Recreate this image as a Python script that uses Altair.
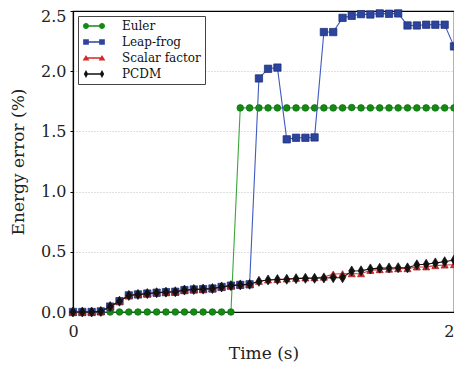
import altair as alt
import pandas as pd

# Time samples (s)
time = [0.000, 0.049, 0.098, 0.146, 0.195, 0.244, 0.293, 0.341, 0.390, 0.439,
        0.488, 0.537, 0.585, 0.634, 0.683, 0.732, 0.780, 0.829, 0.878, 0.927,
        0.976, 1.024, 1.073, 1.122, 1.171, 1.220, 1.268, 1.317, 1.366, 1.415,
        1.463, 1.512, 1.561, 1.610, 1.659, 1.707, 1.756, 1.805, 1.854, 1.902,
        1.951, 2.000]

euler = [0, 0, 0, 0, 0, 0, 0, 0, 0, 0,
         0, 0, 0, 0, 0, 0, 0, 0, 1.695, 1.695,
         1.695, 1.695, 1.695, 1.695, 1.695, 1.695, 1.695, 1.695, 1.695, 1.695,
         1.698, 1.695, 1.695, 1.695, 1.695, 1.695, 1.695, 1.695, 1.695, 1.695,
         1.695, 1.695]

leapfrog = [0, 0, 0, 0.005, 0.045, 0.09, 0.138, 0.146, 0.153, 0.16,
            0.165, 0.168, 0.182, 0.187, 0.19, 0.195, 0.208, 0.219, 0.225, 0.23,
            1.94, 2.02, 2.03, 1.434, 1.447, 1.447, 1.45, 2.325, 2.325, 2.443,
            2.46, 2.474, 2.471, 2.48, 2.477, 2.48, 2.38, 2.38, 2.386, 2.386,
            2.386, 2.206]

scalar = [0, 0, 0, 0.005, 0.045, 0.09, 0.138, 0.146, 0.153, 0.16,
          0.165, 0.168, 0.182, 0.187, 0.19, 0.195, 0.208, 0.219, 0.225, 0.23,
          0.255, 0.266, 0.27, 0.275, 0.28, 0.283, 0.285, 0.29, 0.315, 0.318,
          0.318, 0.318, 0.346, 0.352, 0.356, 0.36, 0.36, 0.374, 0.375, 0.385,
          0.39, 0.393]

pcdm = [0, 0, 0, 0.005, 0.045, 0.09, 0.138, 0.146, 0.153, 0.16,
        0.165, 0.168, 0.182, 0.187, 0.19, 0.195, 0.208, 0.219, 0.225, 0.23,
        0.255, 0.266, 0.27, 0.272, 0.277, 0.28, 0.28, 0.283, 0.285, 0.285,
        0.341, 0.342, 0.358, 0.364, 0.366, 0.368, 0.367, 0.392, 0.397, 0.408,
        0.418, 0.432]

names = ["Euler", "Leap-frog", "Scalar factor", "PCDM"]
series_values = [euler, leapfrog, scalar, pcdm]

rows = []
for name, vals in zip(names, series_values):
    for t, v in zip(time, vals):
        rows.append({"t": t, "v": v, "series": name})
df = pd.DataFrame(rows)

FONT = "DejaVu Serif"

x_enc = alt.X("t:Q", scale=alt.Scale(domain=[0, 2], nice=False),
              axis=alt.Axis(title="Time (s)", values=[0, 1, 2], format="d",
                            labelPadding=8, titlePadding=6, labelFlush=False,
                            labelAlign={"condition": {"test": "datum.value == 2", "value": "right"}, "value": "center"},
                            gridOpacity={"condition": {"test": "datum.value == 0 || datum.value == 2", "value": 0}, "value": 1}))
y_enc = alt.Y("v:Q", scale=alt.Scale(domain=[0, 2.5], nice=False),
              axis=alt.Axis(title="Energy error (%)", values=[0, 0.5, 1, 1.5, 2, 2.5],
                            format=".1f", labelPadding=4, titlePadding=13,
                            labelBaseline={"condition": {"test": "datum.value == 2.5", "value": "top"}, "value": "middle"},
                            labelOffset={"condition": {"test": "datum.value == 2.5", "value": -2.5}, "value": 0},
                            gridOpacity={"condition": {"test": "datum.value == 0 || datum.value == 2.5", "value": 0}, "value": 1}))

styles = {
    "Euler": dict(line="#3aa63a", fill="#138a13", stroke="#0d6e0d", shape="circle", size=44),
    "Leap-frog": dict(line="#3f5bbd", fill="#2b44a0", stroke="#1a2a6e", shape="square", size=54),
    "Scalar factor": dict(line="#d43a3a", fill="#d42a2a", stroke="#a01818", shape="triangle-up", size=50),
    "PCDM": dict(line="#111111", fill="#111111", stroke="#111111", shape="M0,-1L0.6,0L0,1L-0.6,0Z", size=100),
}

layers = []
for name in names:
    s = styles[name]
    base = alt.Chart(df).transform_filter(alt.datum.series == name)
    layers.append(base.mark_line(color=s["line"], strokeWidth=1.1).encode(x=x_enc, y=y_enc))
    layers.append(base.mark_point(filled=True, fill=s["fill"], stroke=s["stroke"], strokeWidth=0.7,
                                  shape=s["shape"], size=s["size"], opacity=1).encode(x=x_enc, y=y_enc))

legend_colors = ["#138a13", "#2b44a0", "#d42a2a", "#111111"]
bar = "M-1.6,-0.13H1.6V0.13H-1.6Z "
legend_paths = [
    bar + "M-2.2,0A0.6,0.6 0 1,1 -1.0,0A0.6,0.6 0 1,1 -2.2,0Z M1.0,0A0.6,0.6 0 1,1 2.2,0A0.6,0.6 0 1,1 1.0,0Z",
    bar + "M-2.17,-0.57H-1.03V0.57H-2.17Z M1.03,-0.57H2.17V0.57H1.03Z",
    bar + "M-1.6,-0.62L-0.92,0.52H-2.28Z M1.6,-0.62L2.28,0.52H0.92Z",
    bar + "M-1.6,-0.8L-1.17,0L-1.6,0.8L-2.03,0Z M1.6,-0.8L2.03,0L1.6,0.8L1.17,0Z",
]

legend_layer = alt.Chart(df).transform_filter("false").mark_point(filled=True, opacity=1).encode(
    x=x_enc, y=y_enc,
    color=alt.Color("series:N", scale=alt.Scale(domain=names, range=legend_colors),
                    legend=alt.Legend(title=None)),
    shape=alt.Shape("series:N", scale=alt.Scale(domain=names, range=legend_paths),
                    legend=alt.Legend(title=None)),
)
layers.append(legend_layer)

chart = alt.layer(*layers).properties(
    width=381, height=301,
    autosize=alt.AutoSizeParams(type="none"),
    padding={"left": 65, "top": 3, "right": 0, "bottom": 50},
).configure_view(
    stroke="black", strokeWidth=1.2
).configure_axis(
    domainColor="black", domainWidth=1.2, tickColor="black", tickSize=3,
    labelFont=FONT, labelFontSize=16, labelColor="#222",
    titleFont=FONT, titleFontSize=17, titleFontWeight="normal", titleColor="#222",
    gridColor="#b0b0b0", gridDash=[1, 2], gridWidth=0.8,
).configure_legend(
    orient="top-left", offset=5, padding=4, rowPadding=4,
    strokeColor="#444", fillColor="white", cornerRadius=0,
    labelFont=FONT, labelFontSize=12, labelColor="#111",
    symbolSize=100, symbolOffset=6, labelOffset=22, symbolStrokeWidth=0,
)

chart.save("out.html", embed_options={"renderer": "svg", "actions": False})
